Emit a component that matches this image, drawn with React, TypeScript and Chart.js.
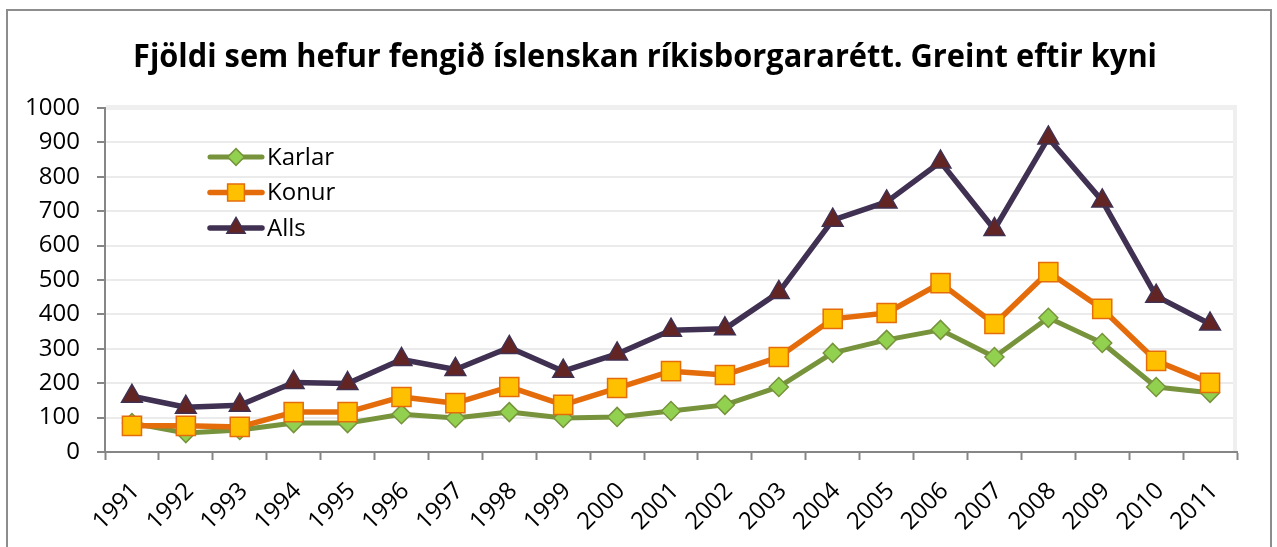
import React, { useEffect, useRef } from 'react';
import { Chart, registerables } from 'chart.js';

Chart.register(...registerables);

const years = ['1991', '1992', '1993', '1994', '1995', '1996', '1997', '1998', '1999', '2000', '2001', '2002', '2003', '2004', '2005', '2006', '2007', '2008', '2009', '2010', '2011'];
const karlar = [84, 55, 64, 84, 84, 110, 99, 116, 99, 102, 119, 137, 189, 288, 326, 355, 276, 390, 317, 189, 172];
const konur = [76, 76, 73, 116, 116, 160, 142, 189, 137, 186, 235, 224, 276, 387, 404, 491, 372, 523, 416, 265, 201];
const alls = [162, 130, 136, 202, 199, 269, 240, 304, 235, 285, 354, 358, 464, 674, 727, 843, 647, 913, 730, 453, 372];
const seriesNames = ['Karlar', 'Konur', 'Alls'];
const titleText = 'Fjöldi sem hefur fengið íslenskan ríkisborgararétt. Greint eftir kyni';
const yMin = 0;
const yMax = 1000;
const yStep = 100;

const FONT = '"Open Sans", "Noto Sans", sans-serif';

function drawMarker(ctx: CanvasRenderingContext2D, style: string, x: number, y: number, r: number, fill: string, stroke: string, bw: number) {
  ctx.beginPath();
  if (style === 'rectRot') {
    ctx.moveTo(x, y - r);
    ctx.lineTo(x + r, y);
    ctx.lineTo(x, y + r);
    ctx.lineTo(x - r, y);
    ctx.closePath();
  } else if (style === 'rect') {
    const s = Math.SQRT1_2 * r;
    ctx.rect(x - s, y - s, 2 * s, 2 * s);
  } else {
    const a = Math.PI * 2 / 3;
    ctx.moveTo(x, y - r);
    ctx.lineTo(x + Math.sin(a) * r, y - Math.cos(a) * r);
    ctx.lineTo(x + Math.sin(2 * a) * r, y - Math.cos(2 * a) * r);
    ctx.closePath();
  }
  ctx.fillStyle = fill;
  ctx.fill();
  ctx.lineWidth = bw;
  ctx.strokeStyle = stroke;
  ctx.stroke();
}

const plotFramePlugin = {
  id: 'plotFrame',
  beforeDatasetsDraw(chart: any) {
    const { ctx, chartArea } = chart;
    const { left, right, top, bottom } = chartArea;
    ctx.save();
    ctx.fillStyle = '#efefef';
    ctx.fillRect(left + 1, top - 3, right - left - 1, 5);
    ctx.fillRect(right - 4, top - 3, 4, bottom - top + 2);
    ctx.restore();
  },
};

const titlePlugin = {
  id: 'xlTitle',
  afterDraw(chart: any) {
    const ctx = chart.ctx as CanvasRenderingContext2D;
    ctx.save();
    ctx.font = `bold 32px ${FONT}`;
    ctx.fillStyle = '#000000';
    ctx.textAlign = 'center';
    ctx.textBaseline = 'alphabetic';
    ctx.fillText(titleText, 645, 67, 1024);
    ctx.restore();
  },
};

const legendPlugin = {
  id: 'xlLegend',
  afterDraw(chart: any) {
    const ctx = chart.ctx as CanvasRenderingContext2D;
    const ds = chart.data.datasets;
    ctx.save();
    ds.forEach((d: any, i: number) => {
      const y = 157 + i * 35.5;
      ctx.beginPath();
      ctx.lineCap = 'round';
      ctx.lineWidth = d.borderWidth;
      ctx.strokeStyle = d.borderColor;
      ctx.moveTo(210, y);
      ctx.lineTo(262, y);
      ctx.stroke();
      drawMarker(ctx, d.pointStyle, 236, y, d.pointRadius * 0.88, d.pointBackgroundColor, d.pointBorderColor, d.pointBorderWidth);
      ctx.font = `24px ${FONT}`;
      ctx.fillStyle = '#000000';
      ctx.textAlign = 'left';
      ctx.textBaseline = 'middle';
      ctx.fillText(d.label, 267, y + 1);
    });
    ctx.restore();
  },
};

export default function App() {
  const canvasRef = useRef<HTMLCanvasElement | null>(null);

  useEffect(() => {
    if (!canvasRef.current) return;
    const common = {
      borderWidth: 5.5,
      tension: 0,
      borderJoinStyle: 'round' as const,
      borderCapStyle: 'round' as const,
      pointBorderWidth: 1.5,
      fill: false,
    };
    const chart = new Chart(canvasRef.current, {
      type: 'line',
      data: {
        labels: years,
        datasets: [
          {
            ...common,
            label: seriesNames[0],
            data: karlar,
            borderColor: '#77933C',
            borderWidth: 5,
            pointStyle: 'rectRot',
            pointRadius: 9.5,
            pointBackgroundColor: '#92D050',
            pointBorderColor: '#77933C',
            order: 3,
          },
          {
            ...common,
            label: seriesNames[1],
            data: konur,
            borderColor: '#E46C0A',
            pointStyle: 'rect',
            pointRadius: 13.5,
            pointBackgroundColor: '#FFC000',
            pointBorderColor: '#E46C0A',
            order: 2,
          },
          {
            ...common,
            label: seriesNames[2],
            data: alls,
            borderColor: '#403152',
            pointStyle: 'triangle',
            pointRadius: 12,
            pointBackgroundColor: '#632523',
            pointBorderColor: '#403152',
            order: 1,
          },
        ],
      },
      options: {
        responsive: false,
        maintainAspectRatio: false,
        devicePixelRatio: 1,
        animation: false,
        layout: { padding: { left: 0, right: 40, top: 108, bottom: 0 } },
        plugins: {
          legend: { display: false },
          title: { display: false },
          tooltip: { enabled: false },
        },
        scales: {
          x: {
            type: 'category',
            offset: true,
            grid: {
              offset: true,
              drawOnChartArea: false,
              drawTicks: true,
              tickLength: 8,
              tickColor: '#868686',
              tickWidth: 2,
            },
            border: { color: '#868686', width: 2 },
            ticks: {
              autoSkip: false,
              minRotation: 45,
              maxRotation: 45,
              color: '#000000',
              font: { family: FONT, size: 24 },
              padding: 17,
              labelOffset: 4,
            },
            afterFit: (s: any) => {
              s.height = 95;
            },
          },
          y: {
            min: yMin,
            max: yMax,
            ticks: {
              stepSize: yStep,
              color: '#000000',
              font: { family: FONT, size: 24 },
              padding: 17,
              callback: (v: any) => String(v),
            },
            grid: {
              color: '#ebebeb',
              lineWidth: 2,
              tickLength: 8,
              tickColor: '#868686',
              tickWidth: 2,
            },
            border: { color: '#868686', width: 2 },
            afterFit: (s: any) => {
              s.width = 105;
            },
          },
        },
      },
      plugins: [plotFramePlugin, titlePlugin, legendPlugin],
    });
    return () => chart.destroy();
  }, []);

  return (
    <div style={{ position: 'fixed', left: 0, top: 0, width: 1277, height: 547, background: '#ffffff', overflow: 'hidden' }}>
      <div
        style={{
          position: 'absolute',
          left: 6,
          top: 9,
          width: 1266,
          height: 700,
          border: '2px solid #8d8d8d',
          boxSizing: 'border-box',
        }}
      />
      <canvas
        ref={canvasRef}
        width={1277}
        height={547}
        style={{ position: 'absolute', left: 0, top: 0, width: 1277, height: 547 }}
      />
    </div>
  );
}
